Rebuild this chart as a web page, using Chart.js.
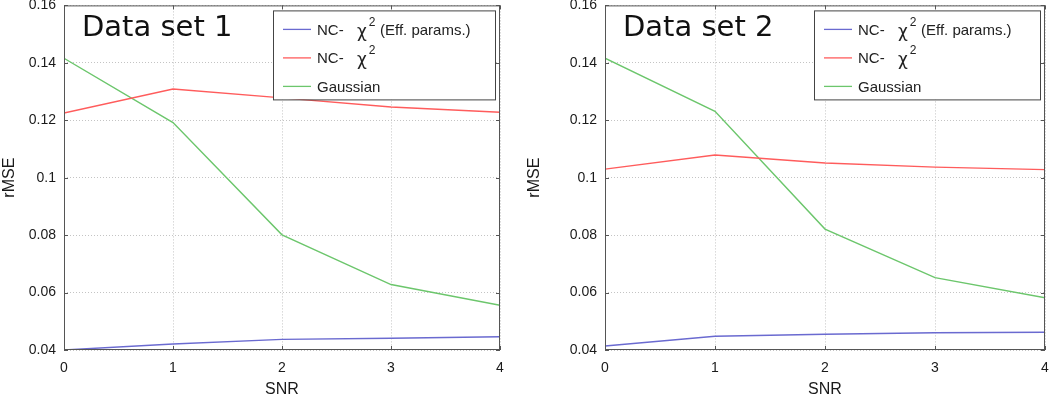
<!DOCTYPE html>
<html>
<head>
<meta charset="utf-8">
<script src="https://cdn.jsdelivr.net/npm/chart.js@4.4.0/dist/chart.umd.min.js"></script>
<style>
  body { margin: 0; background: #fff; overflow: hidden; }
  .wrap { position: absolute; top: -11px; height: 410px; }
  #w1 { left: 0; width: 525px; }
  #w2 { left: 525px; width: 540px; }
</style>
</head>
<body>
<div class="wrap" id="w1"><canvas id="chart1"></canvas></div>
<div class="wrap" id="w2"><canvas id="chart2"></canvas></div>
<script>
// Data
const snr = [0, 1, 2, 3, 4];
const seriesNames = ['NC-χ2 (Eff. params.)', 'NC-χ2', 'Gaussian'];
const seriesColors = ['#6a6ad0', '#ff5c5c', '#6cc66c'];

const set1Eff = [0.0400, 0.0421, 0.0437, 0.0441, 0.0446];
const set1Nc = [0.1225, 0.1309, 0.1278, 0.1246, 0.1228];
const set1Gauss = [0.1416, 0.1192, 0.0801, 0.0628, 0.0556];

const set2Eff = [0.0414, 0.0448, 0.0455, 0.0460, 0.0462];
const set2Nc = [0.1030, 0.1079, 0.1051, 0.1037, 0.1028];
const set2Gauss = [0.1416, 0.1231, 0.0821, 0.0652, 0.0582];

const yTicks = [0.04, 0.06, 0.08, 0.1, 0.12, 0.14, 0.16];
const fontFam = '"Liberation Sans", Arial, sans-serif';

function makeDatasets(vals) {
  return vals.map((v, i) => ({
    label: seriesNames[i],
    data: v.map((y, k) => ({ x: snr[k], y: y })),
    borderColor: seriesColors[i],
    borderWidth: 1.4,
    pointRadius: 0,
    tension: 0
  }));
}

// box, inner ticks, title text and matlab-ish legend
const decor = {
  id: 'decor',
  afterDatasetsDraw(chart, args, opts) {
    const { ctx, chartArea: a } = chart;
    ctx.save();
    ctx.strokeStyle = '#555';
    ctx.lineWidth = 1;
    ctx.strokeRect(a.left + 0.5, a.top + 0.5, a.right - a.left - 1, a.bottom - a.top - 1);

    // inner tick marks
    const xs = chart.scales.x, ys = chart.scales.y;
    ctx.beginPath();
    snr.forEach(v => {
      const px = Math.round(xs.getPixelForValue(v)) + 0.5;
      ctx.moveTo(px, a.bottom); ctx.lineTo(px, a.bottom - 4);
      ctx.moveTo(px, a.top); ctx.lineTo(px, a.top + 4);
    });
    yTicks.forEach(v => {
      const py = Math.round(ys.getPixelForValue(v)) + 0.5;
      ctx.moveTo(a.left, py); ctx.lineTo(a.left + 4, py);
      ctx.moveTo(a.right, py); ctx.lineTo(a.right - 4, py);
    });
    ctx.stroke();

    // panel title
    ctx.fillStyle = '#111';
    ctx.font = '29px "DejaVu Sans", sans-serif';
    ctx.textBaseline = 'alphabetic';
    ctx.fillText(opts.title, a.left + 18, a.top + 31);

    // legend
    const lx = a.right - opts.legendW - 5, ly = a.top + 5;
    const lw = opts.legendW, lh = 89;
    ctx.fillStyle = '#fff';
    ctx.fillRect(lx, ly, lw, lh);
    ctx.strokeStyle = '#444';
    ctx.strokeRect(lx + 0.5, ly + 0.5, lw, lh);
    chart.data.datasets.forEach((ds, i) => {
      const ry = ly + 19 + i * 28.5;
      ctx.strokeStyle = ds.borderColor;
      ctx.lineWidth = 1.3;
      ctx.beginPath();
      ctx.moveTo(lx + 10, ry); ctx.lineTo(lx + 38, ry);
      ctx.stroke();
      ctx.fillStyle = '#222';
      ctx.textBaseline = 'middle';
      let tx = lx + 44;
      if (ds.label.startsWith('NC-')) {
        ctx.font = '15px ' + fontFam;
        ctx.fillText('NC-', tx, ry + 1);
        tx = lx + 84;
        ctx.font = '17px "DejaVu Sans", sans-serif';
        ctx.fillText('χ', tx, ry + 3);
        tx += ctx.measureText('χ').width + 2;
        ctx.font = '12px ' + fontFam;
        ctx.fillText('2', tx, ry - 7);
        const rest = ds.label.slice(5).trim();
        if (rest) {
          ctx.font = '15px ' + fontFam;
          ctx.fillText(rest, lx + 107, ry + 1);
        }
      } else {
        ctx.font = '15px ' + fontFam;
        ctx.fillText(ds.label, tx, ry + 1);
      }
    });
    ctx.restore();
  }
};

function makeChart(id, vals, title, yWidth, padRight, legendW) {
  return new Chart(document.getElementById(id), {
    type: 'line',
    data: { datasets: makeDatasets(vals) },
    plugins: [decor],
    options: {
      responsive: true,
      maintainAspectRatio: false,
      animation: false,
      layout: { padding: { left: 0, right: padRight, top: 4, bottom: 0 } },
      plugins: {
        legend: { display: false },
        tooltip: { enabled: false },
        decor: { title: title, legendW: legendW }
      },
      scales: {
        x: {
          type: 'linear',
          min: 0, max: 4,
          afterBuildTicks: s => { s.ticks = snr.map(v => ({ value: v })); },
          afterFit: s => { s.height = 49; },
          grid: { color: '#c4c4c4', drawTicks: false },
          border: { display: false, dash: [1, 2] },
          ticks: { color: '#1a1a1a', font: { family: fontFam, size: 14 }, padding: 10, maxRotation: 0 },
          title: { display: true, text: 'SNR', color: '#1a1a1a', font: { family: fontFam, size: 16 }, padding: { top: 0, bottom: 0 } }
        },
        y: {
          min: 0.04, max: 0.16,
          afterBuildTicks: s => { s.ticks = yTicks.map(v => ({ value: v })); },
          afterFit: s => { s.width = yWidth; },
          grid: { color: '#c4c4c4', drawTicks: false },
          border: { display: false, dash: [1, 2] },
          ticks: { color: '#1a1a1a', font: { family: fontFam, size: 14 }, padding: 8, callback: v => String(+v.toFixed(2)) },
          title: { display: true, text: 'rMSE', color: '#1a1a1a', font: { family: fontFam, size: 16 }, padding: { top: 0, bottom: 2 } }
        }
      }
    }
  });
}

makeChart('chart1', [set1Eff, set1Nc, set1Gauss], 'Data set 1', 64, 25, 222);
makeChart('chart2', [set2Eff, set2Nc, set2Gauss], 'Data set 2', 80, 20, 226);
</script>
</body>
</html>
